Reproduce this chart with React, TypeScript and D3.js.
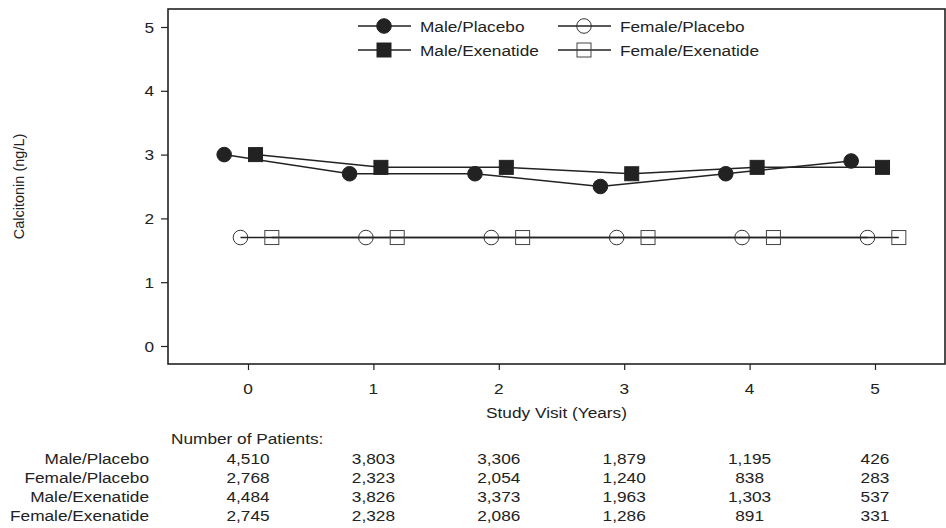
import React, { useEffect, useRef } from "react";
import * as d3 from "d3";

const years = [0, 1, 2, 3, 4, 5];
const malePlacebo = [3.0, 2.7, 2.7, 2.5, 2.7, 2.9];
const femalePlacebo = [1.7, 1.7, 1.7, 1.7, 1.7, 1.7];
const maleExenatide = [3.0, 2.8, 2.8, 2.7, 2.8, 2.8];
const femaleExenatide = [1.7, 1.7, 1.7, 1.7, 1.7, 1.7];

const patientRows = ["Male/Placebo", "Female/Placebo", "Male/Exenatide", "Female/Exenatide"];
const patientCounts = [
  ["4,510", "3,803", "3,306", "1,879", "1,195", "426"],
  ["2,768", "2,323", "2,054", "1,240", "838", "283"],
  ["4,484", "3,826", "3,373", "1,963", "1,303", "537"],
  ["2,745", "2,328", "2,086", "1,286", "891", "331"],
];

const yTicks = [0, 1, 2, 3, 4, 5];
const ink = "#222";
const font = "'Liberation Sans', Arial, sans-serif";

export default function App() {
  const svgRef = useRef<SVGSVGElement>(null);

  useEffect(() => {
    const width = 946;
    const height = 528;
    const svg = d3.select(svgRef.current).attr("width", width).attr("height", height);
    svg.selectAll("*").remove();

    const box = { left: 168, right: 945, top: 9, bottom: 364 };
    const x = d3.scaleLinear().domain([0, 5]).range([248, 875]);
    const y = d3.scaleLinear().domain([0, 5]).range([346, 27]);

    // the source text is a little wider than Liberation Sans
    const label = (g: any, tx: number, ty: number, str: string, anchor = "start") =>
      g
        .append("text")
        .attr("transform", `translate(${tx},${ty}) scale(1.15,1)`)
        .attr("text-anchor", anchor)
        .attr("font-family", font)
        .attr("font-size", 15)
        .attr("fill", ink)
        .text(str);

    // frame
    svg
      .append("rect")
      .attr("x", box.left)
      .attr("y", box.top)
      .attr("width", box.right - box.left)
      .attr("height", box.bottom - box.top)
      .attr("fill", "none")
      .attr("stroke", ink)
      .attr("stroke-width", 1.6);

    // y axis
    const yAxis = svg.append("g").attr("transform", `translate(${box.left},0)`);
    yAxis
      .call(d3.axisLeft(y).tickValues(yTicks).tickSize(7).tickFormat(() => ""))
      .call((g) => g.select(".domain").remove());
    yAxis.selectAll("line").attr("stroke", ink).attr("stroke-width", 1.2);
    yTicks.forEach((t) => label(svg, box.left - 14, y(t) + 5.5, String(t), "end"));

    // x axis
    const xAxis = svg.append("g").attr("transform", `translate(0,${box.bottom})`);
    xAxis
      .call(d3.axisBottom(x).tickValues(years).tickSize(6).tickFormat(() => ""))
      .call((g) => g.select(".domain").remove());
    xAxis.selectAll("line").attr("stroke", ink).attr("stroke-width", 1.2);
    years.forEach((t) => label(svg, x(t), 394, String(t), "middle"));

    label(svg, (box.left + box.right) / 2, 418, "Study Visit (Years)", "middle");
    svg
      .append("text")
      .attr("transform", `translate(24,${(box.top + box.bottom) / 2}) rotate(-90)`)
      .attr("text-anchor", "middle")
      .attr("font-family", font)
      .attr("font-size", 14.5)
      .attr("fill", ink)
      .text("Calcitonin (ng/L)");

    const series = [
      { name: "Male/Placebo", values: malePlacebo, offset: -0.19, shape: "circle", filled: true },
      { name: "Female/Placebo", values: femalePlacebo, offset: -0.06, shape: "circle", filled: false },
      { name: "Male/Exenatide", values: maleExenatide, offset: 0.06, shape: "square", filled: true },
      { name: "Female/Exenatide", values: femaleExenatide, offset: 0.19, shape: "square", filled: false },
    ];

    const drawMarker = (g: any, cx: number, cy: number, s: any) => {
      if (s.shape === "circle") {
        g.append("circle")
          .attr("cx", cx)
          .attr("cy", cy)
          .attr("r", 7.3)
          .attr("fill", s.filled ? ink : "none")
          .attr("stroke", s.filled ? ink : "#333")
          .attr("stroke-width", 1);
      } else {
        const half = 7;
        g.append("rect")
          .attr("x", cx - half)
          .attr("y", cy - half)
          .attr("width", half * 2)
          .attr("height", half * 2)
          .attr("fill", s.filled ? ink : "none")
          .attr("stroke", s.filled ? ink : "#444")
          .attr("stroke-width", 1);
      }
    };

    const line = d3
      .line<[number, number]>()
      .x((d) => d[0])
      .y((d) => d[1]);

    const plot = svg.append("g");
    series.forEach((s) => {
      const pts: [number, number][] = years.map((yr, i) => [x(yr + s.offset), y(s.values[i])]);
      plot
        .append("path")
        .attr("d", line(pts))
        .attr("fill", "none")
        .attr("stroke", ink)
        .attr("stroke-width", 1.5);
    });
    series.forEach((s) => {
      years.forEach((yr, i) => drawMarker(plot, x(yr + s.offset), y(s.values[i]), s));
    });

    // legend
    const legend = svg.append("g");
    const legendItems = [
      { s: series[0], lx: 358, ly: 26 },
      { s: series[2], lx: 358, ly: 50 },
      { s: series[1], lx: 558, ly: 26 },
      { s: series[3], lx: 558, ly: 50 },
    ];
    legendItems.forEach(({ s, lx, ly }) => {
      legend
        .append("line")
        .attr("x1", lx)
        .attr("x2", lx + 53)
        .attr("y1", ly)
        .attr("y2", ly)
        .attr("stroke", ink)
        .attr("stroke-width", 1.5);
      drawMarker(legend, lx + 26, ly, s);
      label(legend, lx + 62, ly + 5.5, s.name);
    });

    // patient table
    const table = svg.append("g");
    label(table, 171, 444, "Number of Patients:");
    patientRows.forEach((row, r) => {
      const ty = 464 + r * 19;
      label(table, 149, ty, row, "end");
      patientCounts[r].forEach((c, i) => label(table, x(years[i]), ty, c, "middle"));
    });
  }, []);

  return (
    <div style={{ position: "absolute", left: 0, top: 0 }}>
      <svg ref={svgRef} style={{ display: "block" }}></svg>
    </div>
  );
}
